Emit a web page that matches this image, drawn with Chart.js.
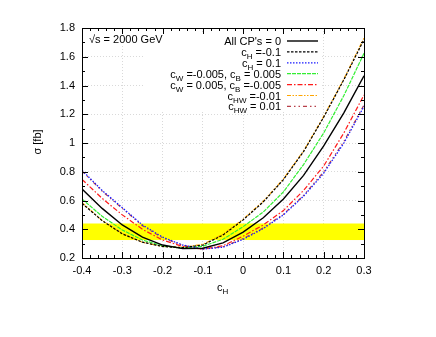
<!DOCTYPE html>
<html>
<head>
<meta charset="utf-8">
<script src="https://cdn.jsdelivr.net/npm/chart.js@4/dist/chart.umd.min.js"></script>
<style>
  html, body { margin: 0; padding: 0; background: #fff; }
</style>
</head>
<body>
<canvas id="chart" width="436" height="337"></canvas>
<script>
// ---------- data ----------
const cH = [-0.4, -0.35, -0.3, -0.25, -0.2, -0.15, -0.1, -0.05, 0, 0.05, 0.1, 0.15, 0.2, 0.25, 0.3];
const allZero   = [0.68, 0.545, 0.43, 0.345, 0.29, 0.265, 0.268, 0.305, 0.38, 0.48, 0.61, 0.775, 0.98, 1.21, 1.468];
const cHminus   = [0.58, 0.46, 0.368, 0.31, 0.28, 0.272, 0.29, 0.36, 0.465, 0.59, 0.745, 0.94, 1.18, 1.44, 1.72];
const cHplus    = [0.81, 0.67, 0.55, 0.43, 0.345, 0.29, 0.262, 0.275, 0.33, 0.405, 0.5, 0.63, 0.79, 1.0, 1.255];
const cWmcBp    = [0.61, 0.49, 0.395, 0.325, 0.285, 0.268, 0.282, 0.33, 0.418, 0.52, 0.66, 0.85, 1.07, 1.33, 1.624];
const cWpcBm    = [0.747, 0.615, 0.5, 0.4, 0.325, 0.28, 0.262, 0.285, 0.352, 0.43, 0.53, 0.67, 0.84, 1.07, 1.334];
const cHWminus  = [0.585, 0.462, 0.37, 0.31, 0.28, 0.275, 0.295, 0.365, 0.47, 0.595, 0.75, 0.945, 1.185, 1.445, 1.73];
const cHWplus   = [0.805, 0.665, 0.545, 0.425, 0.34, 0.288, 0.262, 0.278, 0.335, 0.41, 0.505, 0.635, 0.8, 1.01, 1.265];
const band = [0.325, 0.44];       // yellow measurement band, sigma [fb]
const xTicks = [-0.4, -0.3, -0.2, -0.1, 0, 0.1, 0.2, 0.3];
const yTicks = [0.2, 0.4, 0.6, 0.8, 1, 1.2, 1.4, 1.6, 1.8];

// legend text pieces: [text, subscript?]
const legendLabels = [
  [["All CP's = 0", 0]],
  [["c", 0], ["H", 1], [" =-0.1", 0]],
  [["c", 0], ["H", 1], [" = 0.1", 0]],
  [["c", 0], ["W", 1], [" =-0.005, c", 0], ["B", 1], [" = 0.005", 0]],
  [["c", 0], ["W", 1], [" = 0.005, c", 0], ["B", 1], [" =-0.005", 0]],
  [["c", 0], ["HW", 1], [" =-0.01", 0]],
  [["c", 0], ["HW", 1], [" = 0.01", 0]]
];

const FONT = '"Liberation Sans", Arial, Helvetica, sans-serif';

function pts(ys) { return ys.map((y, i) => ({ x: cH[i], y })); }

const series = [
  { data: allZero,  color: "#000000", dash: [],              width: 1.4 },
  { data: cHminus,  color: "#000000", dash: [2.5, 1.5],      width: 1.2 },
  { data: cHplus,   color: "#1a1aff", dash: [1.5, 1.5],      width: 1.3 },
  { data: cWmcBp,   color: "#33ee33", dash: [4, 1],          width: 1.2 },
  { data: cWpcBm,   color: "#ff1a1a", dash: [5, 2, 1.5, 2],  width: 1.2 },
  { data: cHWminus, color: "#ffa500", dash: [4, 1.5, 1.5, 1.5, 1.5, 1.5], width: 1.2 },
  { data: cHWplus,  color: "#b8404a", dash: [4, 3, 1.5, 3, 1.5, 3], width: 1.2 }
];

// ---------- helpers ----------
function richWidth(ctx, parts) {
  let w = 0;
  parts.forEach(([t, sub]) => {
    ctx.font = (sub ? "8px " : "11px ") + FONT;
    w += ctx.measureText(t).width;
  });
  return w;
}
function drawRich(ctx, parts, x, y, align) {
  let cx = align === "right" ? x - richWidth(ctx, parts) : x;
  ctx.textAlign = "left";
  ctx.textBaseline = "alphabetic";
  parts.forEach(([t, sub]) => {
    ctx.font = (sub ? "8px " : "11px ") + FONT;
    ctx.fillText(t, cx, sub ? y + 3 : y);
    cx += ctx.measureText(t).width;
  });
}

// ---------- decorations ----------
const decor = {
  id: "decor",
  beforeDatasetsDraw(chart) {
    const { ctx, chartArea: a, scales: { y } } = chart;
    ctx.save();
    const y0 = y.getPixelForValue(band[1]), y1 = y.getPixelForValue(band[0]);
    ctx.fillStyle = "#ffff00";
    ctx.fillRect(a.left, y0, a.right - a.left, y1 - y0);
    // white boxes behind the keys
    ctx.fillStyle = "#fff";
    ctx.fillRect(143, 33, 179, 78);
    ctx.fillRect(84, 30, 80, 15);
    ctx.restore();
  },
  afterDraw(chart) {
    const { ctx, chartArea: a, scales: { x, y } } = chart;
    ctx.save();
    ctx.strokeStyle = "#000";
    ctx.lineWidth = 1;
    ctx.setLineDash([]);
    // ticks, inward on all four sides
    ctx.beginPath();
    for (let i = -20; i <= 15; i++) {
      const px = Math.round(x.getPixelForValue(i * 0.02)) + 0.5;
      const len = i % 5 === 0 ? 6 : 3;
      ctx.moveTo(px, a.bottom); ctx.lineTo(px, a.bottom - len);
      ctx.moveTo(px, a.top); ctx.lineTo(px, a.top + len);
    }
    for (let i = 2; i <= 18; i++) {
      const py = Math.round(y.getPixelForValue(i / 10)) + 0.5;
      const len = i % 2 === 0 ? 6 : 3;
      ctx.moveTo(a.left, py); ctx.lineTo(a.left + len, py);
      ctx.moveTo(a.right, py); ctx.lineTo(a.right - len, py);
    }
    ctx.stroke();
    // frame
    ctx.strokeRect(Math.round(a.left) + 0.5, Math.round(a.top) + 0.5,
                   Math.round(a.right - a.left), Math.round(a.bottom - a.top));

    // legend
    ctx.fillStyle = "#000";
    legendLabels.forEach((parts, i) => {
      const ly = 45 + i * 10.9;
      drawRich(ctx, parts, 281, ly, "right");
      const s = series[i];
      ctx.beginPath();
      ctx.strokeStyle = s.color;
      ctx.lineWidth = s.width;
      ctx.setLineDash(s.dash);
      ctx.moveTo(287, ly - 4);
      ctx.lineTo(318, ly - 4);
      ctx.stroke();
    });
    ctx.setLineDash([]);

    // sqrt(s) label
    ctx.fillStyle = "#000";
    ctx.font = "11px " + FONT;
    ctx.textAlign = "left";
    ctx.textBaseline = "alphabetic";
    ctx.fillText("\u221as = 2000 GeV", 89, 43);

    // axis titles
    drawRich(ctx, [["c", 0], ["H", 1]], 217, 291, "left");
    ctx.translate(41, 142);
    ctx.rotate(-Math.PI / 2);
    ctx.font = "11px " + FONT;
    ctx.textAlign = "center";
    ctx.fillText("\u03c3 [fb]", 0, 0);
    ctx.restore();
  }
};

// ---------- chart ----------
new Chart(document.getElementById("chart"), {
  type: "line",
  data: {
    datasets: series.map(s => ({
      data: pts(s.data),
      borderColor: s.color,
      borderDash: s.dash,
      borderWidth: s.width,
      pointRadius: 0,
      tension: 0,
      fill: false
    }))
  },
  options: {
    responsive: false,
    animation: false,
    devicePixelRatio: 1,
    layout: { padding: { top: 28, right: 72, left: 0, bottom: 0 } },
    plugins: { legend: { display: false }, tooltip: { enabled: false } },
    scales: {
      x: {
        type: "linear", min: -0.4, max: 0.3,
        afterFit: s => { s.height = 79; },
        afterBuildTicks: s => { s.ticks = xTicks.map(v => ({ value: v })); },
        ticks: {
          padding: 6, maxRotation: 0, autoSkip: false, color: "#000",
          font: { family: FONT, size: 11 },
          callback: v => String(+v.toFixed(2))
        },
        grid: { color: "#d9d9d9", lineWidth: 1, drawTicks: false },
        border: { display: false, dash: [1, 2] }
      },
      y: {
        type: "linear", min: 0.2, max: 1.8,
        afterFit: s => { s.width = 82; },
        afterBuildTicks: s => { s.ticks = yTicks.map(v => ({ value: v })); },
        ticks: {
          padding: 7, color: "#000",
          font: { family: FONT, size: 11 },
          callback: v => String(+v.toFixed(2))
        },
        grid: { color: "#d9d9d9", lineWidth: 1, drawTicks: false },
        border: { display: false, dash: [1, 2] }
      }
    }
  },
  plugins: [decor]
});
</script>
</body>
</html>
